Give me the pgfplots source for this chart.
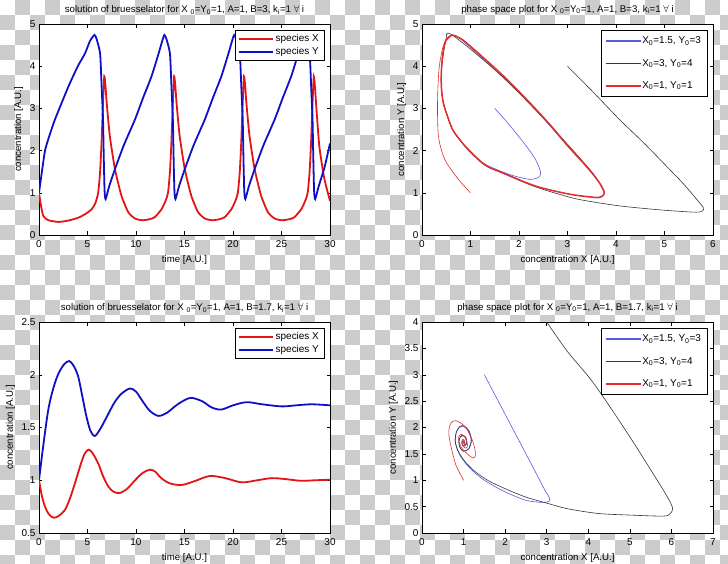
\documentclass[border=0pt]{standalone}
\usepackage{fontspec}
\setmainfont{Liberation Sans}
\usepackage{pgfplots}
\pgfplotsset{compat=1.18}

\definecolor{mred}{RGB}{228,20,20}
\definecolor{mblue}{RGB}{15,15,200}
\definecolor{pblue}{RGB}{90,90,225}
\definecolor{pblack}{RGB}{55,55,55}
\definecolor{pred}{RGB}{228,45,45}
\definecolor{chk}{RGB}{204,204,204}

\pgfplotsset{
  mat/.style={
    width=291bp, height=211bp, scale only axis,
    font=\fontsize{9.7}{11}\selectfont,
    tick label style={font=\fontsize{10}{11}\selectfont},
    xticklabel style={yshift=-2.5bp},
    xlabel style={yshift=-1bp},
    /pgf/number format/assume math mode=true,
    tick align=inside, major tick length=3.5bp,
    axis line style={line width=0.6pt},
    every tick/.style={line width=0.5pt, black},
    axis background/.style={fill=white},
    legend cell align=left,
    legend style={line width=0.6pt, fill=white,
      font=\fontsize{10}{11}\selectfont, at={(0.98,0.97)}, anchor=north east},
    every axis legend/.append style={draw=black},
    legend image code/.code={\draw[##1] (0bp,0bp) -- (34bp,0bp);},
  },
  lgb/.style={legend image code/.code={\fill[pblue] (0bp,-0.3bp) rectangle (34bp,0.3bp);}},
  lgk/.style={legend image code/.code={\fill[pblack] (0bp,-0.3bp) rectangle (34bp,0.3bp);}},
  lgr/.style={legend image code/.code={\fill[pred] (0bp,-0.35bp) rectangle (34bp,0.35bp);}},
}

\begin{document}
\begin{tikzpicture}
\useasboundingbox (0,0) rectangle (728bp,564bp);
\begin{scope}
\clip (0,0) rectangle (728bp,564bp);
\fill[white] (0,0) rectangle (728bp,564bp);
\foreach \i in {0,...,48}{
  \foreach \j in {0,...,37}{
    \pgfmathtruncatemacro\k{mod(\i+\j,2)}
    \ifnum\k=1 \fill[chk] (\i*15bp,564bp-\j*15bp) rectangle ++(15bp,-15bp);\fi
  }
}
\end{scope}

% top left: time course, B=3
\begin{axis}[mat, at={(39bp,329bp)}, anchor=south west,
  xmin=0, xmax=30, ymin=0, ymax=5,
  xtick={0,5,...,30}, ytick={0,1,...,5},
  xlabel={time [A.U.]}, ylabel={concentration [A.U.]},
  title={solution of bruesselator for X \textsubscript{0}=Y\textsubscript{0}=1, A=1, B=3, k\textsubscript{i}=1 $\forall$ i}]
\addplot[mred, line width=1.8pt, smooth, tension=0.35] coordinates {
(0,1.0)(0.2,0.7)(0.45,0.45)(0.96,0.35)(2.0,0.31)(3.0,0.34)(4.05,0.41)(4.8,0.5)(5.43,0.61)(5.8,0.75)(6.1,1.0)(6.3,1.5)(6.45,2.2)(6.6,3.13)(6.73,3.76)
(6.85,3.55)(6.98,3.13)(7.30,2.35)(7.83,1.56)(8.50,0.93)(9.20,0.54)(9.90,0.39)(10.63,0.35)(11.33,0.37)(11.93,0.42)(12.63,0.61)(13.03,0.8)(13.30,1.0)(13.50,1.5)(13.65,2.2)(13.80,3.13)(13.93,3.76)
(14.05,3.55)(14.18,3.13)(14.50,2.35)(15.03,1.56)(15.70,0.93)(16.40,0.54)(17.10,0.39)(17.83,0.35)(18.53,0.37)(19.13,0.42)(19.83,0.61)(20.23,0.8)(20.50,1.0)(20.70,1.5)(20.85,2.2)(21.00,3.13)(21.13,3.76)
(21.25,3.55)(21.38,3.13)(21.70,2.35)(22.23,1.56)(22.90,0.93)(23.60,0.54)(24.30,0.39)(25.03,0.35)(25.73,0.37)(26.33,0.42)(27.03,0.61)(27.43,0.8)(27.70,1.0)(27.90,1.5)(28.05,2.2)(28.20,3.13)(28.33,3.76)
(28.45,3.5)(28.6,3.0)(28.9,2.1)(29.4,1.35)(30,0.81)};
\addlegendentry{species X}
\addplot[mblue, line width=1.8pt, smooth, tension=0.35] coordinates {
(0,1.0)(0.3,1.5)(0.62,2.0)(1.0,2.3)(1.65,2.74)(3.0,3.5)(4.0,4.0)(4.74,4.3)(5.26,4.6)(5.72,4.74)(5.93,4.65)(6.30,4.3)(6.46,3.5)(6.60,2.74)(6.68,1.8)(6.76,1.05)(6.87,0.85)
(7.23,1.15)(7.83,1.56)(8.73,2.12)(9.90,2.74)(10.73,3.25)(11.60,3.76)(12.33,4.3)(12.73,4.62)(12.92,4.74)(13.13,4.65)(13.50,4.3)(13.66,3.5)(13.80,2.74)(13.88,1.8)(13.96,1.05)(14.07,0.85)
(14.43,1.15)(15.03,1.56)(15.93,2.12)(17.10,2.74)(17.93,3.25)(18.80,3.76)(19.53,4.3)(19.93,4.62)(20.12,4.74)(20.33,4.65)(20.70,4.3)(20.86,3.5)(21.00,2.74)(21.08,1.8)(21.16,1.05)(21.27,0.85)
(21.63,1.15)(22.23,1.56)(23.13,2.12)(24.30,2.74)(25.13,3.25)(26.00,3.76)(26.73,4.3)(27.13,4.62)(27.32,4.74)(27.53,4.65)(27.90,4.3)(28.06,3.5)(28.20,2.74)(28.28,1.8)(28.36,1.05)(28.47,0.85)
(28.83,1.15)(29.43,1.6)(30,2.17)};
\addlegendentry{species Y}
\end{axis}

% top right: phase plane, B=3
\begin{axis}[mat, at={(422bp,329bp)}, anchor=south west,
  xmin=0, xmax=6, ymin=0, ymax=5,
  xtick={0,1,...,6}, ytick={0,1,...,5},
  xlabel={concentration X [A.U.]}, ylabel={concentration Y [A.U.]},
  legend style={row sep=10bp, inner sep=4bp},
  title={phase space plot for X \textsubscript{0}=Y\textsubscript{0}=1, A=1, B=3, k\textsubscript{i}=1 $\forall$ i}]
\addplot[pblue, line width=0.6pt, smooth, lgb] coordinates {
(1.5,3.0)(1.75,2.68)(1.99,2.34)(2.2,2.03)(2.34,1.79)(2.44,1.52)(2.43,1.4)(2.35,1.34)(2.2,1.32)(1.9,1.4)(1.65,1.5)(1.3,1.68)(1.0,1.95)(0.75,2.3)(0.63,2.5)(0.53,2.8)(0.44,3.13)(0.40,3.5)(0.40,3.9)(0.43,4.3)(0.49,4.6)(0.62,4.74)(0.82,4.62)(1.65,3.76)(2.34,2.97)(3.03,2.07)(3.51,1.48)(3.76,1.0)(3.58,0.89)(3.03,0.97)(2.34,1.16)(1.65,1.48)};
\addlegendentry{X\textsubscript{0}=1.5, Y\textsubscript{0}=3}
\addplot[pblack, line width=0.6pt, smooth, lgk] coordinates {
(3.0,4.0)(3.5,3.42)(4.07,2.74)(4.6,2.15)(5.1,1.56)(5.4,1.2)(5.66,0.85)(5.8,0.65)(5.78,0.57)(5.65,0.54)(5.2,0.57)(4.76,0.61)(4.07,0.69)(3.39,0.81)(3.03,0.9)(2.34,1.14)(1.65,1.47)(1.3,1.65)(0.95,2.02)(0.63,2.5)(0.44,3.13)(0.40,3.5)(0.40,3.9)(0.49,4.6)(0.62,4.74)(1.65,3.76)(2.68,2.55)(3.51,1.48)(3.76,1.0)};
\addlegendentry{X\textsubscript{0}=3, Y\textsubscript{0}=4}
\addplot[pred, line width=0.6pt, smooth, lgr] coordinates {
(1.0,1.0)(0.75,1.32)(0.47,1.79)(0.34,2.34)(0.32,3.13)(0.35,3.92)(0.42,4.4)(0.5,4.65)(0.62,4.74)};
\addlegendentry{X\textsubscript{0}=1, Y\textsubscript{0}=1}
\addplot[pred, line width=1.5pt, smooth, forget plot] coordinates {
(0.62,4.74)(0.82,4.64)(1.2,4.27)(1.65,3.8)(2.0,3.4)(2.34,2.99)(2.68,2.56)(3.03,2.08)(3.3,1.74)(3.51,1.46)(3.68,1.2)(3.76,1.0)(3.7,0.91)(3.58,0.89)(3.03,0.97)(2.34,1.16)(1.65,1.48)(1.3,1.66)(0.95,2.03)(0.75,2.3)(0.63,2.5)(0.53,2.8)(0.44,3.13)(0.40,3.5)(0.40,3.9)(0.43,4.3)(0.49,4.6)(0.62,4.74)};
\end{axis}

% bottom left: time course, B=1.7
\begin{axis}[mat, at={(39bp,31bp)}, anchor=south west,
  xmin=0, xmax=30, ymin=0.5, ymax=2.5,
  xtick={0,5,...,30}, ytick={0.5,1,1.5,2,2.5},
  xlabel={time [A.U.]}, ylabel={concentration [A.U.]},
  title={solution of bruesselator for X \textsubscript{0}=Y\textsubscript{0}=1, A=1, B=1.7, k\textsubscript{i}=1 $\forall$ i}]
\addplot[mred, line width=1.8pt, smooth] coordinates {
(0,1.0)(0.3,0.85)(0.62,0.75)(1.0,0.68)(1.48,0.645)(2.0,0.66)(2.68,0.72)(3.2,0.83)(3.7,0.97)(4.3,1.15)(4.7,1.25)(5.09,1.29)(5.5,1.26)(6.1,1.16)(6.6,1.04)(7.15,0.94)(7.7,0.89)(8.35,0.88)(9.1,0.92)(9.9,1.0)(10.7,1.07)(11.44,1.10)(12.0,1.08)(12.6,1.02)(13.5,0.97)(14.7,0.955)(16.0,0.99)(17.6,1.04)(19.2,1.02)(20.9,0.98)(22.5,1.0)(24.0,1.02)(25.5,1.01)(27.0,0.995)(28.5,1.0)(30,1.005)};
\addlegendentry{species X}
\addplot[mblue, line width=1.8pt, smooth] coordinates {
(0,1.0)(0.4,1.3)(0.96,1.67)(1.5,1.88)(2.0,2.01)(2.6,2.10)(3.13,2.13)(3.6,2.08)(4.05,1.98)(4.5,1.78)(4.9,1.6)(5.3,1.47)(5.77,1.42)(6.4,1.5)(7.15,1.63)(7.8,1.74)(8.5,1.82)(9.38,1.87)(10.0,1.84)(10.6,1.76)(11.4,1.66)(12.3,1.61)(13.2,1.64)(14.3,1.72)(15.57,1.78)(16.8,1.75)(17.8,1.69)(18.8,1.67)(20.0,1.71)(21.4,1.74)(23.0,1.72)(25,1.70)(26.5,1.71)(28.1,1.72)(30,1.71)};
\addlegendentry{species Y}
\end{axis}

% bottom right: phase plane, B=1.7
\begin{axis}[mat, at={(422bp,31bp)}, anchor=south west,
  xmin=0, xmax=7, ymin=0, ymax=4,
  xtick={0,1,...,7}, ytick={0,0.5,...,4},
  xlabel={concentration X [A.U.]}, ylabel={concentration Y [A.U.]},
  legend style={row sep=10bp, inner sep=4bp},
  title={phase space plot for X \textsubscript{0}=Y\textsubscript{0}=1, A=1, B=1.7, k\textsubscript{i}=1 $\forall$ i}]
\addplot[pblue, line width=0.6pt, smooth, lgb] coordinates {
(1.5,3.0)(1.8,2.55)(2.1,2.1)(2.4,1.65)(2.7,1.2)(2.95,0.82)(3.07,0.66)(3.05,0.6)(2.9,0.58)(2.5,0.62)(2.0,0.78)(1.6,0.95)(1.3,1.12)(1.05,1.32)(0.88,1.52)(0.8,1.72)(0.82,1.9)(0.9,2.0)(1.0,2.02)(1.12,1.93)(1.18,1.76)(1.12,1.6)(1.0,1.55)(0.91,1.62)(0.89,1.76)(0.96,1.84)(1.05,1.81)(1.08,1.71)(1.02,1.65)(0.96,1.69)(0.98,1.75)(1.02,1.74)(1.01,1.7)(0.99,1.7)};
\addlegendentry{X\textsubscript{0}=1.5, Y\textsubscript{0}=3}
\addplot[pblack, line width=0.6pt, smooth, lgk] coordinates {
(3.0,4.0)(3.5,3.44)(4.08,2.89)(4.6,2.3)(5.1,1.7)(5.5,1.2)(5.8,0.82)(5.98,0.57)(6.03,0.45)(5.96,0.36)(5.8,0.32)(5.0,0.34)(4.24,0.37)(3.5,0.46)(3.03,0.56)(2.5,0.68)(2.0,0.84)(1.6,0.99)(1.3,1.15)(1.05,1.34)(0.88,1.54)(0.8,1.74)(0.83,1.92)(0.91,2.02)(1.01,2.03)(1.13,1.94)(1.19,1.76)(1.13,1.6)(1.0,1.55)(0.91,1.63)(0.89,1.77)(0.96,1.85)(1.05,1.82)(1.08,1.71)(1.02,1.65)(0.96,1.69)(0.98,1.75)(1.02,1.74)(1.0,1.71)};
\addlegendentry{X\textsubscript{0}=3, Y\textsubscript{0}=4}
\addplot[pred, line width=0.6pt, smooth, lgr] coordinates {
(1.0,1.0)(0.81,1.3)(0.69,1.67)(0.645,1.88)(0.66,2.01)(0.71,2.10)(0.81,2.13)(0.94,2.08)(1.07,1.98)(1.2,1.78)(1.27,1.6)(1.285,1.47)(1.23,1.42)(1.09,1.5)(0.94,1.63)(0.89,1.74)(0.88,1.82)(0.94,1.87)(1.01,1.84)(1.06,1.76)(1.10,1.66)(1.05,1.61)(0.99,1.64)(0.955,1.72)(0.98,1.78)(1.02,1.75)(1.04,1.69)(1.03,1.67)(1.0,1.71)(0.98,1.74)(1.0,1.72)(1.02,1.70)(1.0,1.71)};
\addlegendentry{X\textsubscript{0}=1, Y\textsubscript{0}=1}
\end{axis}
\end{tikzpicture}
\end{document}
